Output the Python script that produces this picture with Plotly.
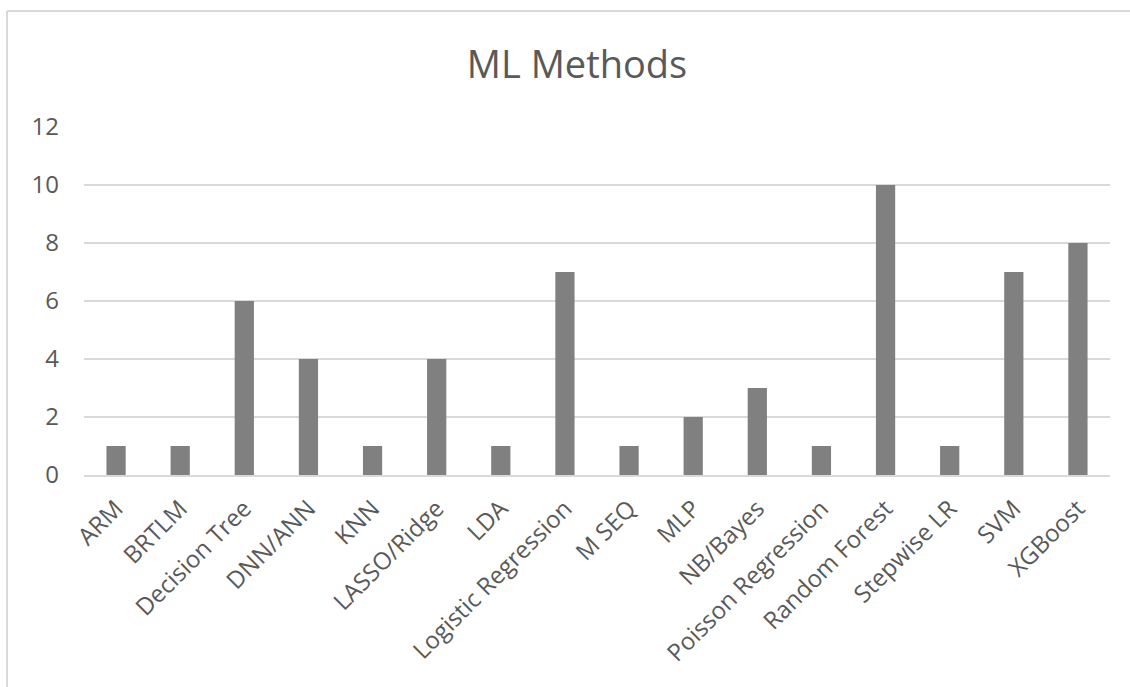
import plotly.graph_objects as go

categories = ["ARM", "BRTLM", "Decision Tree", "DNN/ANN", "KNN", "LASSO/Ridge", "LDA",
              "Logistic Regression", "M SEQ", "MLP", "NB/Bayes", "Poisson Regression",
              "Random Forest", "Stepwise LR", "SVM", "XGBoost"]
counts = [1, 1, 6, 4, 1, 4, 1, 7, 1, 2, 3, 1, 10, 1, 7, 8]
y_ticks = [0, 2, 4, 6, 8, 10, 12]

W, H = 1130, 687
L, R, T, B = 84, W - 1110, 127, H - 475

fig = go.Figure(go.Bar(x=categories, y=counts, marker=dict(color="#808080", line=dict(width=0))))

pw, ph = W - L - R, H - T - B
def px2paper_x(px):
    return (px - L) / pw
def px2paper_y(py):
    return (H - B - py) / ph

fig.update_layout(
    width=W, height=H,
    margin=dict(l=L, r=R, t=T, b=B),
    paper_bgcolor="white", plot_bgcolor="white",
    bargap=0.70,
    font=dict(family="Open Sans", color="#595959"),
    title=dict(text="ML Methods", x=577 / W, xref="container", xanchor="center",
               y=1 - 65 / H, yanchor="middle", font=dict(size=38, color="#595959")),
    showlegend=False,
    xaxis=dict(tickangle=-45, tickfont=dict(size=24, color="#595959"),
               showgrid=False, showline=True, linecolor="#d9d9d9", linewidth=2,
               ticks="", ticklabelstandoff=8),
    yaxis=dict(range=[0, 12], tickvals=y_ticks, tickfont=dict(size=24, color="#595959"),
               showgrid=True, gridcolor="#d9d9d9", gridwidth=2, zeroline=False,
               showline=False, ticks="", ticklabelstandoff=24),
    shapes=[
        dict(type="line", xref="paper", yref="paper",
             x0=px2paper_x(7), x1=px2paper_x(7), y0=px2paper_y(11), y1=px2paper_y(700),
             line=dict(color="#d9d9d9", width=2)),
        dict(type="line", xref="paper", yref="paper",
             x0=px2paper_x(7), x1=px2paper_x(1140), y0=px2paper_y(11), y1=px2paper_y(11),
             line=dict(color="#d9d9d9", width=2)),
    ],
)

fig.write_html("out.html", config={"displayModeBar": False},
               post_script="document.body.style.margin='0';document.body.style.overflow='hidden';")
